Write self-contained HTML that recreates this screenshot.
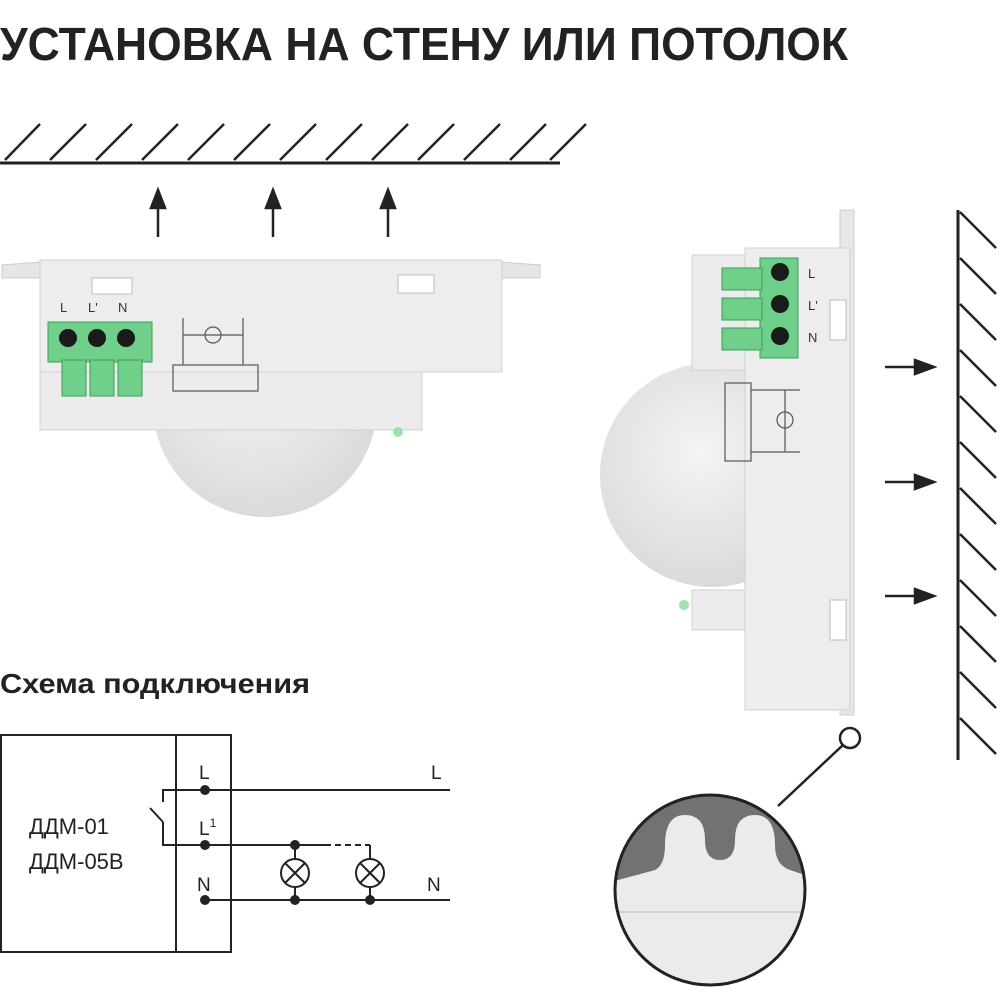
<!DOCTYPE html>
<html><head><meta charset="utf-8"><style>
html,body{margin:0;padding:0;background:#fff;width:1000px;height:1000px;overflow:hidden}
svg{display:block}
text{font-family:"Liberation Sans",sans-serif}
</style></head><body>
<svg width="1000" height="1000" viewBox="0 0 1000 1000">
<defs>
<radialGradient id="dome" cx="0.45" cy="0.4" r="0.7"><stop offset="0" stop-color="#f4f4f4"/><stop offset="1" stop-color="#d6d6d6"/></radialGradient>
<clipPath id="cc"><circle cx="710" cy="890" r="95"/></clipPath>
</defs>
<text x="0" y="60" font-size="46" font-weight="bold" fill="#222" textLength="848" lengthAdjust="spacingAndGlyphs">УСТАНОВКА НА СТЕНУ ИЛИ ПОТОЛОК</text>
<!-- ceiling -->
<line x1="0" y1="163" x2="560" y2="163" stroke="#222" stroke-width="3"/>
<g stroke="#222" stroke-width="2.5">
<line x1="5" y1="160" x2="40" y2="124"/><line x1="50" y1="160" x2="86" y2="124"/><line x1="96" y1="160" x2="132" y2="124"/><line x1="142" y1="160" x2="178" y2="124"/><line x1="188" y1="160" x2="224" y2="124"/><line x1="234" y1="160" x2="270" y2="124"/><line x1="280" y1="160" x2="316" y2="124"/><line x1="326" y1="160" x2="362" y2="124"/><line x1="372" y1="160" x2="408" y2="124"/><line x1="418" y1="160" x2="454" y2="124"/><line x1="464" y1="160" x2="500" y2="124"/><line x1="510" y1="160" x2="546" y2="124"/><line x1="550" y1="160" x2="586" y2="124"/>
</g>
<g stroke="#222" stroke-width="2.5" fill="#222">
<line x1="158" y1="237" x2="158" y2="200"/><path d="M151 208 L158 190 L165 208Z"/>
<line x1="273" y1="237" x2="273" y2="200"/><path d="M266 208 L273 190 L280 208Z"/>
<line x1="388" y1="237" x2="388" y2="200"/><path d="M381 208 L388 190 L395 208Z"/>
</g>
<!-- ceiling device -->
<circle cx="265" cy="405" r="112" fill="url(#dome)"/>
<path d="M2 265 L40 262 L40 278 L2 278Z M500 262 L540 265 L540 278 L500 278Z" fill="#e6e6e6" stroke="#ccc"/>
<rect x="40" y="260" width="462" height="112" fill="#ededed" stroke="#d0d0d0"/>
<rect x="40" y="372" width="382" height="58" fill="#ececec" stroke="#d0d0d0"/>
<rect x="92" y="278" width="40" height="16" fill="#fff" stroke="#bbb"/>
<rect x="398" y="275" width="36" height="18" fill="#fff" stroke="#bbb"/>
<g fill="#6fd08a" stroke="#3a9c56">
<rect x="48" y="322" width="104" height="40"/>
<rect x="62" y="360" width="24" height="36"/><rect x="90" y="360" width="24" height="36"/><rect x="118" y="360" width="24" height="36"/>
</g>
<g fill="#1a1a1a"><circle cx="68" cy="338" r="9"/><circle cx="97" cy="338" r="9"/><circle cx="126" cy="338" r="9"/></g>
<text x="60" y="312" font-size="13" fill="#333">L</text><text x="88" y="312" font-size="13" fill="#333">L'</text><text x="118" y="312" font-size="13" fill="#333">N</text>
<g stroke="#555" fill="none" stroke-width="1.2"><rect x="173" y="365" width="85" height="26"/><line x1="183" y1="318" x2="183" y2="365"/><line x1="243" y1="318" x2="243" y2="365"/><line x1="183" y1="335" x2="243" y2="335"/><circle cx="213" cy="335" r="8"/></g>
<circle cx="398" cy="432" r="5" fill="#9be3a8"/>
<!-- wall -->
<line x1="958" y1="210" x2="958" y2="760" stroke="#222" stroke-width="3"/>
<g stroke="#222" stroke-width="2.5">
<line x1="960" y1="212" x2="996" y2="248"/><line x1="960" y1="258" x2="996" y2="294"/><line x1="960" y1="304" x2="996" y2="340"/><line x1="960" y1="350" x2="996" y2="386"/><line x1="960" y1="396" x2="996" y2="432"/><line x1="960" y1="442" x2="996" y2="478"/><line x1="960" y1="488" x2="996" y2="524"/><line x1="960" y1="534" x2="996" y2="570"/><line x1="960" y1="580" x2="996" y2="616"/><line x1="960" y1="626" x2="996" y2="662"/><line x1="960" y1="672" x2="996" y2="708"/><line x1="960" y1="718" x2="996" y2="754"/>
</g>
<g stroke="#222" stroke-width="2.5" fill="#222">
<line x1="885" y1="367" x2="920" y2="367"/><path d="M915 360 L934 367 L915 374Z"/>
<line x1="885" y1="482" x2="920" y2="482"/><path d="M915 475 L934 482 L915 489Z"/>
<line x1="885" y1="596" x2="920" y2="596"/><path d="M915 589 L934 596 L915 603Z"/>
</g>
<!-- wall device -->
<circle cx="712" cy="475" r="112" fill="url(#dome)"/>
<rect x="840" y="210" width="14" height="505" fill="#e8e8e8" stroke="#ccc"/>
<rect x="692" y="255" width="58" height="115" fill="#ececec" stroke="#d0d0d0"/>
<rect x="692" y="590" width="58" height="40" fill="#ececec" stroke="#d0d0d0"/>
<rect x="745" y="248" width="105" height="462" fill="#ededed" stroke="#d0d0d0"/>
<rect x="830" y="300" width="16" height="40" fill="#fff" stroke="#bbb"/>
<rect x="830" y="600" width="16" height="40" fill="#fff" stroke="#bbb"/>
<g fill="#6fd08a" stroke="#3a9c56">
<rect x="760" y="258" width="38" height="100"/>
<rect x="722" y="268" width="40" height="22"/><rect x="722" y="298" width="40" height="22"/><rect x="722" y="328" width="40" height="22"/>
</g>
<g fill="#1a1a1a"><circle cx="780" cy="272" r="9"/><circle cx="780" cy="304" r="9"/><circle cx="780" cy="336" r="9"/></g>
<g font-size="13" fill="#333"><text x="808" y="278">L</text><text x="808" y="310">L'</text><text x="808" y="342">N</text></g>
<g stroke="#555" fill="none" stroke-width="1.2"><rect x="725" y="383" width="26" height="78"/><line x1="751" y1="390" x2="800" y2="390"/><line x1="751" y1="452" x2="800" y2="452"/><line x1="785" y1="390" x2="785" y2="452"/><circle cx="785" cy="420" r="8"/></g>
<circle cx="684" cy="605" r="5" fill="#9be3a8"/>
<!-- magnifier -->
<circle cx="850" cy="738" r="10" fill="#fff" stroke="#222" stroke-width="2.5"/>
<line x1="843" y1="745" x2="778" y2="806" stroke="#222" stroke-width="2.5"/>
<g clip-path="url(#cc)">
<rect x="600" y="780" width="220" height="220" fill="#727272"/>
<path d="M600 885 L655 870 Q665 865 665 845 Q665 815 685 815 Q705 815 705 840 Q705 860 720 860 Q735 860 735 840 Q735 815 755 815 Q775 815 775 845 Q775 865 790 870 L820 880 L820 1000 L600 1000Z" fill="#ebebeb"/>
<line x1="600" y1="912" x2="820" y2="912" stroke="#cfcfcf" stroke-width="2"/>
</g>
<circle cx="710" cy="890" r="95" fill="none" stroke="#222" stroke-width="3"/>
<!-- schema -->
<text x="0" y="693" font-size="28" font-weight="bold" fill="#222" textLength="310" lengthAdjust="spacingAndGlyphs">Схема подключения</text>
<g stroke="#222" stroke-width="2" fill="none">
<rect x="1" y="735" width="230" height="217"/>
<line x1="176" y1="735" x2="176" y2="952"/>
<polyline points="450,790 163,790 163,802"/>
<line x1="150" y1="808" x2="163" y2="822"/>
<polyline points="163,822 163,845 325,845"/>
<line x1="325" y1="845" x2="370" y2="845" stroke-dasharray="6,4"/>
<line x1="370" y1="845" x2="370" y2="859"/>
<line x1="295" y1="845" x2="295" y2="859"/>
<line x1="205" y1="900" x2="450" y2="900"/>
<line x1="295" y1="887" x2="295" y2="900"/><line x1="370" y1="887" x2="370" y2="900"/>
<circle cx="295" cy="873" r="14"/><circle cx="370" cy="873" r="14"/>
<line x1="285" y1="863" x2="305" y2="883"/><line x1="305" y1="863" x2="285" y2="883"/>
<line x1="360" y1="863" x2="380" y2="883"/><line x1="380" y1="863" x2="360" y2="883"/>
</g>
<g fill="#222"><circle cx="205" cy="790" r="5"/><circle cx="205" cy="845" r="5"/><circle cx="205" cy="900" r="5"/><circle cx="295" cy="845" r="5"/><circle cx="295" cy="900" r="5"/><circle cx="370" cy="900" r="5"/></g>
<g font-size="19" fill="#222">
<text x="199" y="779">L</text><text x="199" y="835">L<tspan font-size="12" dy="-8">1</tspan></text><text x="197" y="891">N</text>
<text x="431" y="779">L</text><text x="427" y="891">N</text>
<text x="29" y="834" font-size="22">ДДМ-01</text><text x="29" y="869" font-size="22">ДДМ-05В</text>
</g>
</svg>
</body></html>
